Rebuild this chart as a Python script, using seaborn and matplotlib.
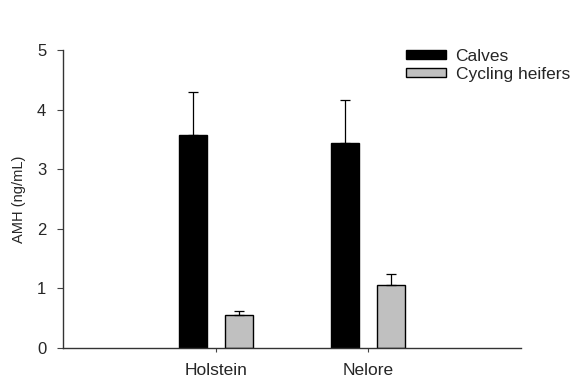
import matplotlib
matplotlib.use("Agg")
import matplotlib.pyplot as plt
import seaborn as sns
import pandas as pd
import numpy as np

breeds = ["Holstein", "Nelore"]
groups = ["Calves", "Cycling heifers"]
amh_calves = [3.57, 3.44]
amh_heifers = [0.55, 1.06]
sem_calves = [0.73, 0.72]
sem_heifers = [0.07, 0.18]

df = pd.DataFrame({
    "breed": breeds * 2,
    "group": [groups[0]] * 2 + [groups[1]] * 2,
    "amh": amh_calves + amh_heifers,
    "sem": sem_calves + sem_heifers,
})

sns.set_style("ticks")
plt.rcParams["font.family"] = ["Liberation Sans", "DejaVu Sans"]

fig = plt.figure(figsize=(5.8, 3.81), dpi=100)
ax = fig.add_axes([63 / 580, 1 - 348 / 381, 458 / 580, 298 / 381])

sns.barplot(data=df, x="breed", y="amh", hue="group", order=breeds,
            hue_order=groups, palette=["#000000", "#c0c0c0"],
            width=0.6, gap=0.39, errorbar=None, edgecolor="black",
            linewidth=1.0, ax=ax)

# one-sided (upper) SEM bars at each bar's top
for container, grp in zip(ax.containers, groups):
    sub = df[df["group"] == grp].set_index("breed").loc[breeds]
    xs = [p.get_x() + p.get_width() / 2 for p in container.patches]
    ax.errorbar(xs, sub["amh"].values,
                yerr=[np.zeros(len(xs)), sub["sem"].values],
                fmt="none", ecolor="black", elinewidth=0.9,
                capsize=3.3, capthick=0.9, zorder=1)

ax.set_xlim(-1, 2)
ax.set_ylim(0, 5)
ax.set_yticks(range(0, 6))
ax.set_xlabel("")
ax.set_ylabel("AMH (ng/mL)", fontsize=10.5, labelpad=8)
ax.tick_params(axis="y", labelsize=12, length=4, width=0.8, color="#444444", pad=8)
ax.tick_params(axis="x", labelsize=12.5, length=3, width=0.8, color="#444444", pad=8)
for s in ["left", "bottom"]:
    ax.spines[s].set_color("#333333")
    ax.spines[s].set_linewidth(1.0)
sns.despine(ax=ax)

leg = ax.legend(loc="upper left", bbox_to_anchor=(0.749, 1.005), frameon=False,
                fontsize=12.5, handlelength=2.3, handleheight=0.4,
                handletextpad=0.55, labelspacing=0.2,
                borderpad=0, borderaxespad=0)

fig.savefig("out.png", dpi=100)
